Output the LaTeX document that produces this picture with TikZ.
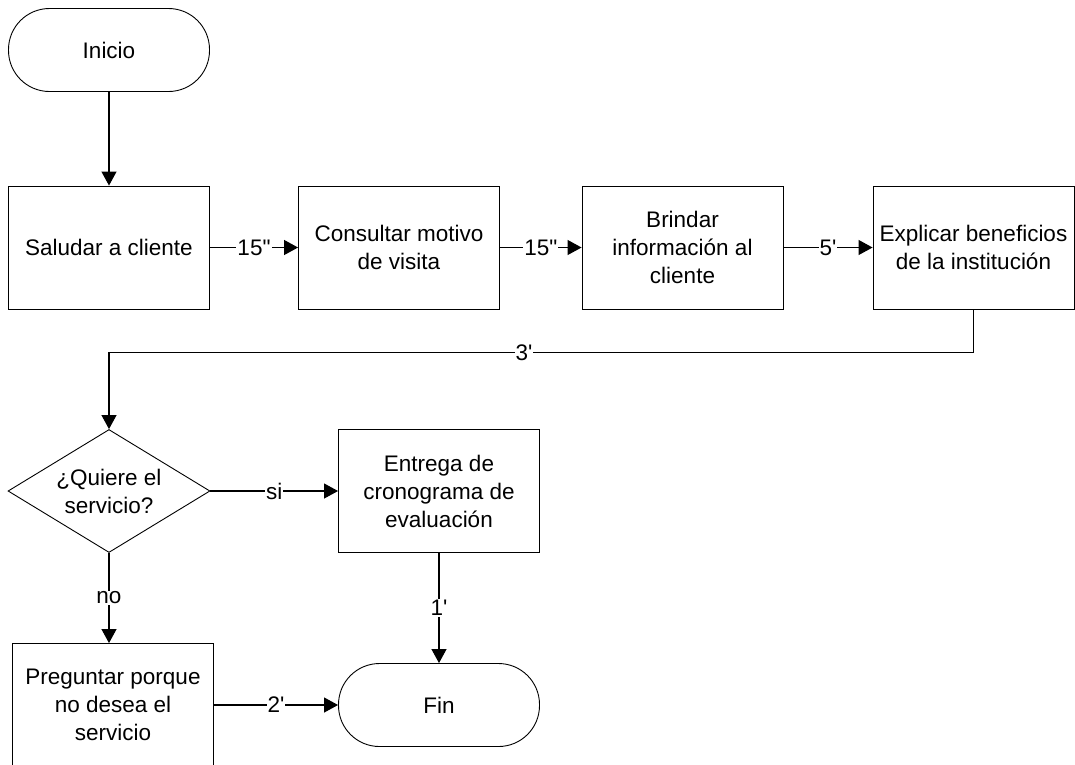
\documentclass[tikz,border=0pt]{standalone}
\usepackage{fontspec}
\newfontfamily\arialfont{Liberation Sans}
\usetikzlibrary{shapes.geometric}
\usetikzlibrary{arrows.meta}

\begin{document}
\begin{tikzpicture}[x=1pt, y=-1pt,
    font=\arialfont\fontsize{22.5}{28}\selectfont,
    process/.style={draw, line width=0.9pt, minimum width=201pt, minimum height=123pt, align=center, inner sep=0pt},
    terminal/.style={draw, line width=0.9pt, rounded corners=41pt, minimum width=201pt, minimum height=83pt, inner sep=0pt},
    decision/.style={draw, diamond, aspect=1.64, line width=0.9pt, minimum width=202pt, minimum height=123pt, align=center, inner sep=0pt},
    flow/.style={line width=1.1pt, -{Triangle[length=14pt,width=15pt]}},
    lbl/.style={fill=white, inner sep=1pt}]
            \clip (0,0) rectangle (1075,764);

            % Start and first row
            \node[terminal] (inicio) at (109,50) {Inicio};
            \node[process] (saludar) at (109,247.5) {Saludar a cliente};
            \node[process] (consultar) at (399,247.5) {Consultar motivo\\de visita};
            \node[process] (brindar) at (682.5,247.5) {Brindar\\información al\\cliente};
            \node[process] (explicar) at (973.5,247.5) {Explicar beneficios\\de la institución};

            % Decision and branches
            \node[decision] (quiere) at (109,491) {¿Quiere el\\servicio?};
            \node[process] (entrega) at (439,491) {Entrega de\\cronograma de\\evaluación};
            \node[process] (preguntar) at (113,705) {Preguntar porque\\no desea el\\servicio};
            \node[terminal] (fin) at (439,705) {Fin};

            % Connectors
            \draw[flow] (inicio) -- (saludar);
            \draw[flow] (saludar) -- node[lbl] {15"} (consultar);
            \draw[flow] (consultar) -- node[lbl] {15"} (brindar);
            \draw[flow] (brindar) -- node[lbl] {5'} (explicar);
            \draw[flow] (explicar.south) -- ++(0,43) -| node[lbl, pos=0.26] {3'} (quiere.north);
            \draw[flow] (quiere) -- node[lbl] {si} (entrega);
            \draw[flow] (quiere.south) -- node[lbl] {no} (quiere.south |- preguntar.north);
            \draw[flow] (entrega) -- node[lbl] {1'} (fin);
            \draw[flow] (preguntar) -- node[lbl] {2'} (fin);

        \end{tikzpicture}
\end{document}
